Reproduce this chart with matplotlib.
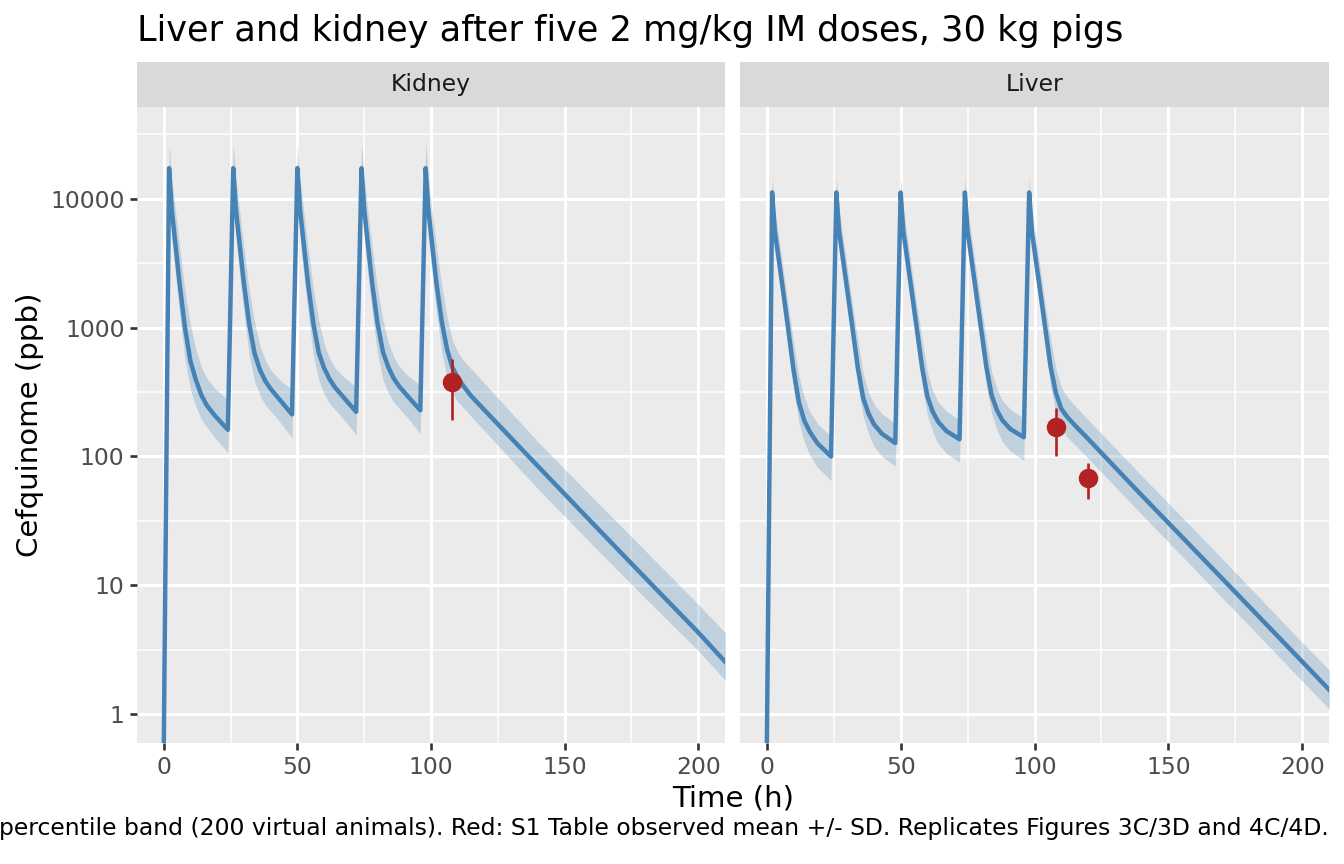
import matplotlib
matplotlib.use("Agg")
import matplotlib.pyplot as plt

# time grid (h) shared by both tissues
hours = [0, 2, 3, 4, 6, 8, 10, 12, 14, 16, 19, 24,
         26, 27, 28, 30, 32, 34, 36, 38, 40, 43, 48,
         50, 51, 52, 54, 56, 58, 60, 62, 64, 67, 72,
         74, 75, 76, 78, 80, 82, 84, 86, 88, 91, 96,
         98, 99, 100, 102, 104, 106, 108, 110, 112, 115, 120, 140, 160, 180, 200, 212]

kidney_median = [0.5, 17300, 8300, 5250, 2140, 980, 550, 394, 302, 251, 209, 161,
                 17300, 8300, 5300, 2200, 1060, 630, 470, 385, 335, 282, 212,
                 17300, 8300, 5300, 2200, 1070, 640, 485, 400, 345, 292, 222,
                 17300, 8300, 5300, 2200, 1080, 650, 495, 405, 352, 298, 228,
                 17300, 8300, 5300, 2250, 1120, 680, 490, 410, 355, 295, 229, 84, 31, 11.5, 4.3, 2.3]
kidney_hi = [0.8, 27000, 14500, 9500, 4200, 1900, 1050, 680, 500, 410, 340, 275,
             27000, 14500, 9500, 4200, 1950, 1100, 720, 560, 470, 400, 330,
             27000, 14500, 9500, 4200, 1980, 1130, 750, 580, 490, 420, 345,
             27000, 14500, 9500, 4200, 2000, 1150, 770, 595, 505, 430, 355,
             27000, 14500, 9500, 4300, 2150, 1200, 800, 650, 560, 480, 370, 130, 49, 18.7, 7.1, 3.9]
kidney_lo = [0.3, 11000, 5000, 3100, 1250, 560, 330, 245, 195, 170, 141, 107,
             11000, 5000, 3100, 1300, 610, 380, 300, 250, 225, 190, 140,
             11000, 5000, 3100, 1300, 620, 390, 305, 260, 232, 198, 147,
             11000, 5000, 3100, 1300, 625, 395, 312, 265, 237, 202, 150,
             11000, 5000, 3100, 1330, 650, 410, 310, 265, 240, 205, 158, 56, 21, 8.0, 3.1, 1.65]

liver_median = [0.5, 11200, 5600, 4000, 2000, 980, 470, 263, 190, 156, 126, 100,
                11200, 5600, 4000, 2000, 1000, 490, 285, 215, 178, 150, 127,
                11200, 5600, 4000, 2000, 1000, 495, 292, 222, 186, 158, 136,
                11200, 5600, 4000, 2000, 1000, 500, 298, 228, 191, 163, 141,
                11200, 5600, 4000, 2000, 1000, 500, 310, 235, 205, 175, 137, 50, 18.6, 6.9, 2.55, 1.4]
liver_hi = [0.8, 14500, 8500, 6000, 3000, 1500, 780, 420, 290, 225, 180, 142,
            14500, 8500, 6000, 3000, 1520, 800, 440, 315, 255, 215, 180,
            14500, 8500, 6000, 3000, 1520, 810, 450, 325, 265, 225, 192,
            14500, 8500, 6000, 3000, 1520, 815, 455, 332, 272, 232, 198,
            14500, 8500, 6000, 3000, 1530, 820, 480, 345, 295, 250, 193, 71, 26.5, 9.8, 3.6, 2.0]
liver_lo = [0.3, 8500, 4000, 2800, 1400, 690, 330, 185, 130, 103, 82, 65,
            8500, 4000, 2800, 1400, 700, 345, 205, 150, 120, 100, 84,
            8500, 4000, 2800, 1400, 700, 350, 210, 155, 126, 106, 90,
            8500, 4000, 2800, 1400, 700, 352, 214, 160, 130, 110, 93,
            8500, 4000, 2800, 1400, 700, 352, 218, 165, 143, 123, 97, 35.5, 13.2, 4.9, 1.8, 1.0]

# observed mean +/- SD (S1 Table)
kidney_obs_t = [108]
kidney_obs_mean = [380]
kidney_obs_sd = [188]
liver_obs_t = [108, 120]
liver_obs_mean = [168, 68]
liver_obs_sd = [68, 21]

y_breaks = [1, 10, 100, 1000, 10000]
y_labels = ["1", "10", "100", "1000", "10000"]
y_minor = [3.16, 31.6, 316, 3162, 31623]
x_breaks = [0, 50, 100, 150, 200]
x_minor = [25, 75, 125, 175]

title = "Liver and kidney after five 2 mg/kg IM doses, 30 kg pigs"
caption = ("percentile band (200 virtual animals). "
           "Red: S1 Table observed mean +/- SD. Replicates Figures 3C/3D and 4C/4D.")

BLUE = "#4682B4"
RED = "#B22222"
W, H = 1344.0, 864.0


def box(x0, y0, x1, y1):
    return [x0 / W, 1 - y1 / H, (x1 - x0) / W, (y1 - y0) / H]


fig = plt.figure(figsize=(13.44, 8.64), dpi=100)

facets = [
    ("Kidney", 137, 725, kidney_median, kidney_lo, kidney_hi,
     kidney_obs_t, kidney_obs_mean, kidney_obs_sd),
    ("Liver", 740, 1329, liver_median, liver_lo, liver_hi,
     liver_obs_t, liver_obs_mean, liver_obs_sd),
]

for i, (name, x0, x1, med, lo, hi, ot, om, osd) in enumerate(facets):
    ax = fig.add_axes(box(x0, 107, x1, 743))
    ax.set_facecolor("#EBEBEB")
    ax.fill_between(hours, lo, hi, color=BLUE, alpha=0.25, lw=0)
    ax.plot(hours, med, color=BLUE, lw=3.2, solid_joinstyle="round")
    ax.errorbar(ot, om, yerr=osd, fmt="o", color=RED, ms=13,
                elinewidth=1.9, capsize=0, zorder=5)
    ax.set_yscale("log")
    for s in ax.spines.values():
        s.set_visible(False)
    ax.set_yticks(y_breaks)
    ax.set_yticks(y_minor, minor=True)
    ax.set_xticks(x_breaks)
    ax.set_xticks(x_minor, minor=True)
    ax.yaxis.set_minor_formatter(plt.NullFormatter())
    ax.tick_params(which="minor", length=0)
    ax.tick_params(which="major", length=5, width=1.9, color="#333333",
                   labelsize=16.9, labelcolor="#4D4D4D", pad=4)
    if i == 0:
        ax.set_yticklabels(y_labels)
    else:
        ax.set_yticklabels([])
        ax.tick_params(axis="y", which="major", length=0)
    ax.set_ylim(0.596, 51600)
    ax.set_xlim(-10, 210)
    ax.grid(which="major", color="white", lw=2.2)
    ax.grid(which="minor", color="white", lw=1.1)
    ax.set_axisbelow(True)

    sax = fig.add_axes(box(x0, 62, x1, 107))
    sax.set_facecolor("#D9D9D9")
    sax.set_xticks([])
    sax.set_yticks([])
    for s in sax.spines.values():
        s.set_visible(False)
    sax.text(0.5, 0.5, name, transform=sax.transAxes, ha="center", va="center",
             fontsize=16.9, color="#1A1A1A")

fig.text(137 / W, 1 - 41 / H, title, fontsize=25.3, ha="left", va="baseline")
fig.text(733 / W, 1 - 806 / H, "Time (h)", fontsize=21.1, ha="center", va="baseline")
fig.text(30 / W, 1 - 425 / H, "Cefquinome (ppb)", fontsize=21.1, rotation=90,
         ha="center", va="center")
fig.text(1329 / W, 1 - 835 / H, caption, fontsize=16.9, ha="right", va="baseline")

fig.savefig("out.png", dpi=100)
